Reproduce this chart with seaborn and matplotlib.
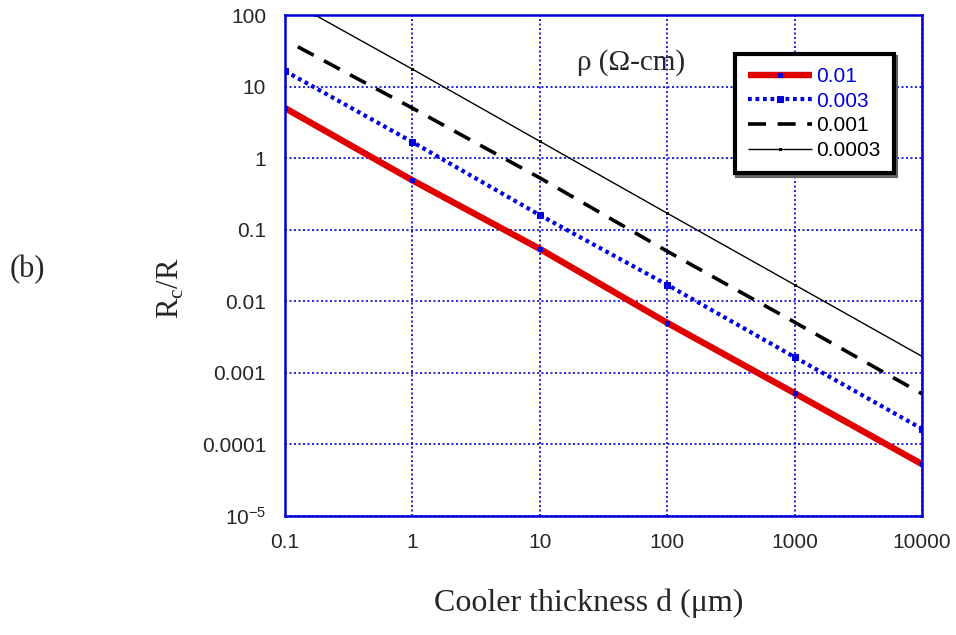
import matplotlib
matplotlib.use("Agg")
import matplotlib.pyplot as plt
from matplotlib.ticker import FixedLocator, FixedFormatter, LogLocator, NullLocator, NullFormatter
import seaborn as sns
import pandas as pd

# Contact-resistance ratio vs. cooler thickness for four resistivities
rho_labels = ["0.01", "0.003", "0.001", "0.0003"]
label_colors = ["#0000e0", "#0000e0", "black", "black"]

d_r1 = [0.1, 1, 10, 100, 1000, 10000]
rc_r1 = [5.0, 0.49, 0.054, 0.0050, 5.2e-4, 5.3e-5]

d_r2 = [0.1, 1, 10, 100, 1000, 10000]
rc_r2 = [16.5, 1.68, 0.16, 0.017, 1.66e-3, 1.65e-4]

d_r3 = [0.126, 1, 10, 100, 1000, 10000]
rc_r3 = [36, 5.0, 0.53, 0.050, 5.1e-3, 5.1e-4]

d_r4 = [0.172, 1, 10, 100, 1000, 10000]
rc_r4 = [100, 17.5, 1.72, 0.17, 0.017, 1.7e-3]

x_ticks = [0.1, 1, 10, 100, 1000, 10000]
x_tick_labels = ["0.1", "1", "10", "100", "1000", "10000"]
y_ticks = [1e-5, 1e-4, 1e-3, 1e-2, 1e-1, 1, 10, 100]
y_tick_labels = [r"$\mathregular{10^{-5}}$", "0.0001", "0.001", "0.01", "0.1", "1", "10", "100"]

sns.set_style("white")
plt.rcParams["font.family"] = ["Liberation Sans", "DejaVu Sans"]
plt.rcParams["lines.solid_capstyle"] = "butt"

axis_blue = "#0000d8"
serif = ["Liberation Serif", "DejaVu Serif"]

fig = plt.figure(figsize=(9.56, 6.35), dpi=100)
ax = fig.add_axes([285 / 956, 1 - 516 / 635, 637 / 956, 501 / 635])

series = [
    (d_r1, rc_r1, dict(color="#e00000", lw=4.6, marker="s", ms=2.2, mfc="#0000e0", mec="#0000e0")),
    (d_r2, rc_r2, dict(color="#0000e0", lw=3.0, marker="s", ms=3.8, mfc="#0000e0", mec="#0000e0")),
    (d_r3, rc_r3, dict(color="black", lw=2.6)),
    (d_r4, rc_r4, dict(color="black", lw=1.0, marker="s", ms=2.0, mfc="black", mec="black")),
]
for (xs, ys, kw), lab in zip(series, rho_labels):
    df = pd.DataFrame({"d": xs, "rc": ys})
    sns.lineplot(data=df, x="d", y="rc", ax=ax, label=lab, estimator=None, sort=False, **kw)

lines = ax.get_lines()
lines[1].set_dashes((0.9, 0.9))
lines[2].set_dashes((5.0, 3.2))

ax.set_xscale("log")
ax.set_yscale("log")
ax.set_xlim(0.1, 10000)
ax.set_ylim(1e-5, 100)

ax.xaxis.set_major_locator(FixedLocator(x_ticks))
ax.xaxis.set_major_formatter(FixedFormatter(x_tick_labels))
ax.xaxis.set_minor_locator(LogLocator(base=10, subs=range(2, 10), numticks=20))
ax.xaxis.set_minor_formatter(NullFormatter())
ax.yaxis.set_major_locator(FixedLocator(y_ticks))
ax.yaxis.set_major_formatter(FixedFormatter(y_tick_labels))
ax.yaxis.set_minor_locator(NullLocator())

ax.tick_params(axis="x", which="major", direction="in", length=8.5, width=1.5,
               color=axis_blue, labelsize=15, pad=12, top=False)
ax.tick_params(axis="x", which="minor", direction="in", length=5, width=1.2,
               color=axis_blue, top=False)
ax.tick_params(axis="y", which="major", direction="out", length=9.5, width=1.5,
               color=axis_blue, labelsize=15, pad=4, right=False)

for sp in ax.spines.values():
    sp.set_color(axis_blue)
    sp.set_linewidth(1.8)
    sp.set_visible(True)

ax.grid(True, which="major", color=axis_blue, linestyle=(0, (1.2, 1.5)), linewidth=1.2)
ax.set_axisbelow(True)

ax.set_xlabel("Cooler thickness d (\u03bcm)", family=serif, fontsize=23)
ax.xaxis.set_label_coords(0.476, -0.145)
ax.set_ylabel(r"R$_{\mathregular{c}}$/R", family=serif, fontsize=22)
ax.yaxis.set_label_coords(-0.156, 0.455)

ax.text(0.543, 0.906, "\u03c1 (\u03a9-cm)", transform=ax.transAxes, family=serif,
        fontsize=21, ha="center", va="center")
fig.text(27 / 956, 1 - 270 / 635, "(b)", family=serif, fontsize=22, ha="center", va="center")

leg = ax.legend(loc="upper left", bbox_to_anchor=(0.706, 0.922), borderaxespad=0,
                fontsize=15, handlelength=3.1, handletextpad=0.2, borderpad=0.62,
                labelspacing=0.27, numpoints=1, fancybox=False, frameon=True,
                shadow={"color": "0.4", "alpha": 1.0})
leg.get_frame().set_edgecolor("black")
leg.get_frame().set_linewidth(3.0)
leg.get_frame().set_facecolor("white")
for txt, c in zip(leg.get_texts(), label_colors):
    txt.set_color(c)

fig.savefig("out.png", dpi=100)
